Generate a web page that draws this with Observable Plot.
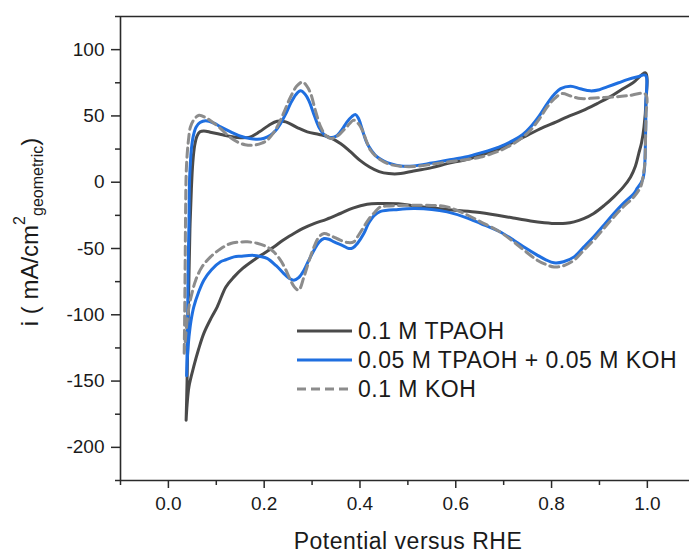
<!DOCTYPE html>
<html><head><meta charset="utf-8">
<script src="https://cdn.jsdelivr.net/npm/d3@7"></script>
<script src="https://cdn.jsdelivr.net/npm/@observablehq/plot@0.6"></script>
<style>
body{margin:0;background:#fff;overflow:hidden}
#chart{position:relative;width:689px;height:553px}
</style>
</head><body><div id="chart"></div>
<script>
// ---- data (potential V vs RHE, current mA/cm2) ----
const seriesNames = ["0.1 M TPAOH", "0.05 M TPAOH + 0.05 M KOH", "0.1 M KOH"];

const tpaoh = [
[0.037,-179.5],[0.039,-150],[0.041,-110],[0.043,-70],[0.045,-35],[0.048,-5],[0.051,15],[0.055,28],[0.060,35],[0.066,38],[0.074,38.7],[0.09,37.5],[0.11,36],[0.13,34.5],[0.15,33.5],[0.17,34],[0.19,38],[0.21,43],[0.227,46],[0.245,45.5],[0.27,41],[0.29,38],[0.315,36],[0.335,34],[0.36,29],[0.38,23],[0.40,16.5],[0.42,11.5],[0.44,8],[0.46,6.5],[0.485,6.5],[0.512,8.5],[0.55,11],[0.582,14],[0.62,17],[0.652,20.4],[0.69,25],[0.721,30.4],[0.75,35.5],[0.777,40.5],[0.81,45.5],[0.833,49.3],[0.865,54],[0.895,59.3],[0.92,64],[0.944,69.4],[0.97,75],[0.996,82.5],
[0.997,60],[0.993,41.7],[0.988,30],[0.982,21.6],[0.975,12],[0.965,4],[0.95,-3.5],[0.93,-11],[0.91,-17.5],[0.888,-23.6],[0.867,-27.5],[0.847,-29.9],[0.83,-31],[0.812,-31.2],[0.785,-30.5],[0.756,-29.2],[0.72,-27],[0.687,-24.9],[0.64,-22.5],[0.582,-20.6],[0.54,-19],[0.512,-17.8],[0.48,-16.3],[0.443,-16.1],[0.415,-16.6],[0.385,-19.5],[0.359,-23.6],[0.33,-28],[0.304,-31.2],[0.28,-35],[0.262,-38.7],[0.24,-43.5],[0.220,-48.8],[0.2,-53.5],[0.178,-58.8],[0.155,-65],[0.137,-71.4],[0.12,-79],[0.102,-94],[0.09,-102],[0.074,-114],[0.063,-126],[0.053,-139],[0.043,-154],[0.039,-168],[0.037,-179.5]
];

const mixed = [
[0.038,-146],[0.040,-110],[0.041,-70],[0.043,-30],[0.044,0],[0.046,15],[0.048,25],[0.052,35],[0.058,41.7],[0.066,45],[0.078,46.3],[0.095,44.5],[0.109,41.7],[0.13,38],[0.151,34.7],[0.17,33],[0.186,32.4],[0.2,33.2],[0.213,35.4],[0.224,39],[0.234,44.2],[0.245,51.5],[0.255,59.3],[0.266,66],[0.276,68.9],[0.285,66.5],[0.293,61.8],[0.304,51],[0.314,41.7],[0.325,36],[0.335,33.7],[0.345,34],[0.353,35.4],[0.363,40],[0.373,45.5],[0.383,49.5],[0.391,51],[0.397,48],[0.401,44.2],[0.408,36],[0.415,29.2],[0.425,23.5],[0.436,19],[0.45,16],[0.464,14],[0.485,12.3],[0.512,12.3],[0.55,14.5],[0.582,16.6],[0.62,19],[0.652,22.1],[0.69,26.5],[0.721,31.7],[0.74,36],[0.756,41.7],[0.775,50.5],[0.791,59.3],[0.805,66],[0.819,70.6],[0.84,72.4],[0.86,70.5],[0.881,68.9],[0.9,69.8],[0.916,71.9],[0.94,75],[0.958,77.4],[0.98,79.5],[0.996,80.7],
[0.997,60],[0.996,30],[0.994,10],[0.991,3],[0.986,-1],[0.979,-4.5],[0.972,-8.5],[0.95,-16],[0.93,-23.6],[0.91,-32],[0.888,-41.2],[0.867,-49],[0.847,-56.3],[0.825,-60],[0.805,-60.8],[0.788,-58.5],[0.770,-55],[0.745,-49.5],[0.721,-43.7],[0.69,-37],[0.652,-31.2],[0.62,-26.5],[0.582,-22.4],[0.55,-20.5],[0.512,-19.9],[0.48,-20.5],[0.443,-22],[0.43,-25],[0.418,-31],[0.408,-38.7],[0.395,-46],[0.385,-49.5],[0.377,-50],[0.365,-48],[0.346,-45],[0.335,-43],[0.325,-42.5],[0.315,-45],[0.304,-51.3],[0.293,-59],[0.283,-66.4],[0.272,-72],[0.262,-73.9],[0.252,-72.5],[0.241,-68.9],[0.225,-63],[0.206,-57.5],[0.192,-56],[0.178,-55.2],[0.151,-55.8],[0.137,-56.3],[0.12,-58.5],[0.109,-60],[0.09,-66],[0.074,-73.9],[0.063,-83],[0.053,-94],[0.047,-105],[0.043,-116.7],[0.040,-130],[0.038,-146]
];

const koh = [
[0.033,-129],[0.034,-100],[0.035,-60],[0.036,-20],[0.037,5],[0.039,20],[0.042,32],[0.046,41.7],[0.054,47.5],[0.064,50.5],[0.081,48],[0.095,44.5],[0.109,40.5],[0.125,35],[0.144,30.4],[0.16,28.3],[0.178,27.9],[0.195,29.5],[0.206,31.7],[0.22,37.5],[0.234,46.8],[0.245,56],[0.255,64.3],[0.268,72.5],[0.280,75.6],[0.289,72.5],[0.297,66.9],[0.307,54],[0.318,41.7],[0.328,35.5],[0.339,33],[0.349,34],[0.359,36.7],[0.373,42],[0.387,46.8],[0.397,44],[0.405,39.2],[0.413,31.5],[0.422,24.1],[0.435,19],[0.450,15.3],[0.465,13.2],[0.485,12],[0.512,11.8],[0.55,13.5],[0.582,15.3],[0.62,17],[0.652,19],[0.69,23.5],[0.721,29.2],[0.74,34],[0.756,39.2],[0.775,48],[0.791,56.8],[0.806,63],[0.822,66.9],[0.84,65],[0.861,63.1],[0.89,63.5],[0.93,64.3],[0.96,65.3],[0.996,66.4],
[0.997,50],[0.996,30],[0.995,15],[0.993,9],[0.99,2],[0.986,-3.5],[0.972,-11],[0.95,-18.5],[0.93,-26.2],[0.91,-34.5],[0.888,-43.7],[0.867,-51.5],[0.847,-58.8],[0.825,-63],[0.805,-63.9],[0.788,-62],[0.770,-58.8],[0.745,-52],[0.721,-45],[0.69,-37],[0.652,-29.9],[0.62,-24],[0.582,-18.6],[0.55,-17.5],[0.512,-17.3],[0.48,-17.6],[0.455,-18],[0.443,-18.6],[0.43,-23],[0.418,-28],[0.408,-33.7],[0.397,-40],[0.387,-45],[0.375,-45.5],[0.359,-43.7],[0.34,-40.5],[0.325,-38.7],[0.314,-41.5],[0.304,-48.8],[0.293,-60],[0.283,-71.4],[0.272,-81.4],[0.263,-79],[0.255,-73.9],[0.245,-66],[0.234,-58.8],[0.22,-52.5],[0.206,-48.8],[0.185,-46],[0.165,-45],[0.148,-45.2],[0.130,-46.2],[0.11,-50],[0.088,-56.3],[0.07,-64],[0.057,-73.9],[0.049,-84],[0.043,-94],[0.039,-105],[0.036,-116.7],[0.033,-129]
];

const xMajorTicks = [0, 0.2, 0.4, 0.6, 0.8, 1.0];
const xMinorTicks = [-0.1, 0.1, 0.3, 0.5, 0.7, 0.9];
const yMajorTicks = [-200, -150, -100, -50, 0, 50, 100];
const yMinorTicks = [-225, -175, -125, -75, -25, 25, 75, 125];
const xDomain = [-0.1, 1.088];
const yDomain = [-225, 125];
const xTitle = "Potential versus RHE";

// ---- styles ----
const colors = ["#4a4a4a", "#1f6fe0", "#8c8c8c"];
const dashes = [null, null, "9,5"];
const axisColor = "#2a2a2a";
const FONT = "'Liberation Sans', Arial, Helvetica, sans-serif";

const seriesData = [tpaoh, mixed, koh];

const plot = Plot.plot({
  width: 689, height: 553,
  marginLeft: 120, marginRight: 0, marginTop: 16, marginBottom: 73,
  style: {fontFamily: FONT, background: "#fff", color: "#1a1a1a"},
  x: {domain: xDomain},
  y: {domain: yDomain},
  marks: [
    Plot.ruleY([yDomain[1]], {stroke: axisColor, strokeWidth: 1.6}),
    Plot.axisX(xMinorTicks, {tickSize: 5, tickFormat: () => "", label: null, stroke: axisColor, strokeWidth: 1.5}),
    Plot.axisX(xMajorTicks, {tickSize: 8, tickPadding: 8, fontSize: 19, tickFormat: d3.format(".1f"), label: null, stroke: axisColor, strokeWidth: 1.5, fill: "#1a1a1a"}),
    Plot.axisY(yMinorTicks, {tickSize: 5, tickFormat: () => "", label: null, stroke: axisColor, strokeWidth: 1.5}),
    Plot.axisY(yMajorTicks, {tickSize: 9, tickPadding: 7, fontSize: 19, label: null, stroke: axisColor, strokeWidth: 1.5, fill: "#1a1a1a", tickFormat: d => String(d)}),
    ...seriesData.map((s, i) => Plot.line(s, {
      x: d => d[0], y: d => d[1], curve: "catmull-rom",
      stroke: colors[i], strokeWidth: 3, strokeDasharray: dashes[i]
    })),
    Plot.ruleX([xDomain[0]], {stroke: axisColor, strokeWidth: 1.6}),
    Plot.ruleY([yDomain[0]], {stroke: axisColor, strokeWidth: 1.6})
  ]
});

document.getElementById("chart").appendChild(plot);

const svg = d3.select(plot);

// x-axis title
svg.append("text")
  .attr("x", 408).attr("y", 549)
  .attr("text-anchor", "middle")
  .style("font-family", FONT).style("font-size", "23px").style("letter-spacing", "0.5px")
  .attr("fill", "#1a1a1a")
  .text(xTitle);

// y-axis title with superscript and subscript
const yl = svg.append("text")
  .attr("transform", "translate(38,232) rotate(-90)")
  .attr("text-anchor", "middle")
  .style("font-family", FONT).style("font-size", "24px")
  .attr("fill", "#1a1a1a");
yl.append("tspan").text("i ( mA/cm");
yl.append("tspan").attr("dy", -13).style("font-size", "16px").text("2");
yl.append("tspan").attr("dy", 18).style("font-size", "16px").text("geometric");
yl.append("tspan").attr("dy", -5).text(")");

// legend
const lg = svg.append("g").attr("text-anchor", "start");
const rowY = [331, 360, 389];
seriesNames.forEach((name, i) => {
  lg.append("line")
    .attr("x1", 297).attr("x2", 352).attr("y1", rowY[i]).attr("y2", rowY[i])
    .attr("stroke", colors[i]).attr("stroke-width", 3)
    .attr("stroke-dasharray", dashes[i]);
  lg.append("text")
    .attr("x", 358).attr("y", rowY[i] + 8.3)
    .attr("text-anchor", "start")
    .style("font-family", FONT).style("font-size", "23px").style("letter-spacing", "0.5px")
    .attr("fill", "#1a1a1a")
    .text(name);
});
</script>
</body></html>
